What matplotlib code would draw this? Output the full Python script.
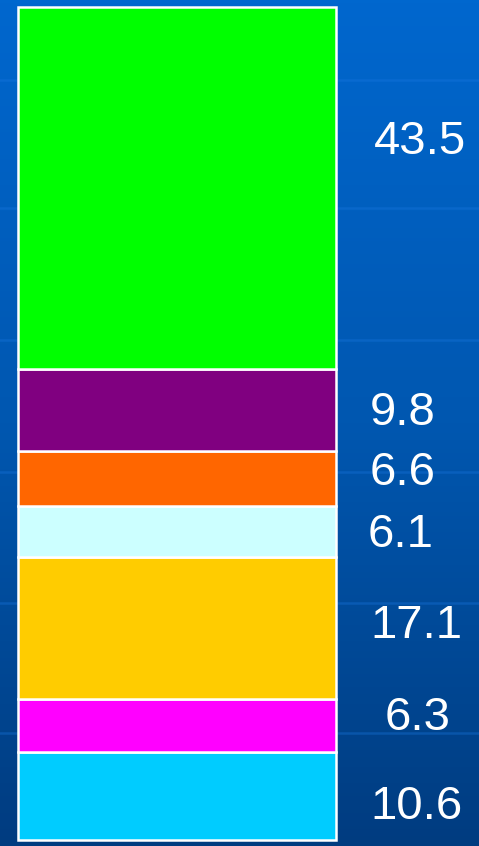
import numpy as np
import matplotlib
matplotlib.use("Agg")
import matplotlib.pyplot as plt
from matplotlib.colors import LinearSegmentedColormap
import matplotlib.transforms as mtransforms

# ---- data (bottom to top) ----
values = [10.6, 6.3, 17.1, 6.1, 6.6, 9.8, 43.5]
labels = ["10.6", "6.3", "17.1", "6.1", "6.6", "9.8", "43.5"]
colors = ["#00CCFF", "#FF00FF", "#FFCC00", "#CCFFFF", "#FF6600", "#800080", "#00FF00"]

# ---- style / layout ----
label_x_px = [417, 418, 416, 401, 403, 403, 420]   # label centers (pixels)
label_dy_px = [-11, 7, 2, -4, 5, -3, 46]           # nudges from segment centers

W, H = 479, 846
DPI = 100
fig = plt.figure(figsize=(W / DPI, H / DPI), dpi=DPI)

# background gradient
bg = fig.add_axes([0, 0, 1, 1])
grad = np.linspace(0, 1, 256).reshape(-1, 1)
cmap = LinearSegmentedColormap.from_list("bg", ["#0067CE", "#0057B0", "#003C80"])
bg.imshow(grad, aspect="auto", cmap=cmap, extent=[0, W, H, 0])
for yl in [80, 208, 340, 472, 603, 733]:
    bg.plot([0, W], [yl, yl], color="#1a78e0", alpha=0.35, lw=1.8)
bg.set_xlim(0, W)
bg.set_ylim(H, 0)
bg.axis("off")

# bar axes
x0, x1, ytop, ybot = 18, 336, 7, 840
ax = fig.add_axes([x0 / W, (H - ybot) / H, (x1 - x0) / W, (ybot - ytop) / H])
ax.set_xlim(0, 1)
ax.set_ylim(0, sum(values))
ax.axis("off")

bottom = 0.0
for v, c, lab, lx, dy in zip(values, colors, labels, label_x_px, label_dy_px):
    ax.bar(0.5, v, width=1.0, bottom=bottom, color=c, edgecolor="white",
           linewidth=1.8, clip_on=False)
    trans = ax.transData + mtransforms.ScaledTranslation(0, dy / DPI, fig.dpi_scale_trans)
    xa = (lx - x0) / (x1 - x0)
    ax.text(xa, bottom + v / 2, lab, transform=mtransforms.blended_transform_factory(
        ax.transAxes, trans), ha="center", va="center", color="white",
        fontsize=34, family="Liberation Sans", clip_on=False)
    bottom += v

fig.savefig("out.png", dpi=DPI)
